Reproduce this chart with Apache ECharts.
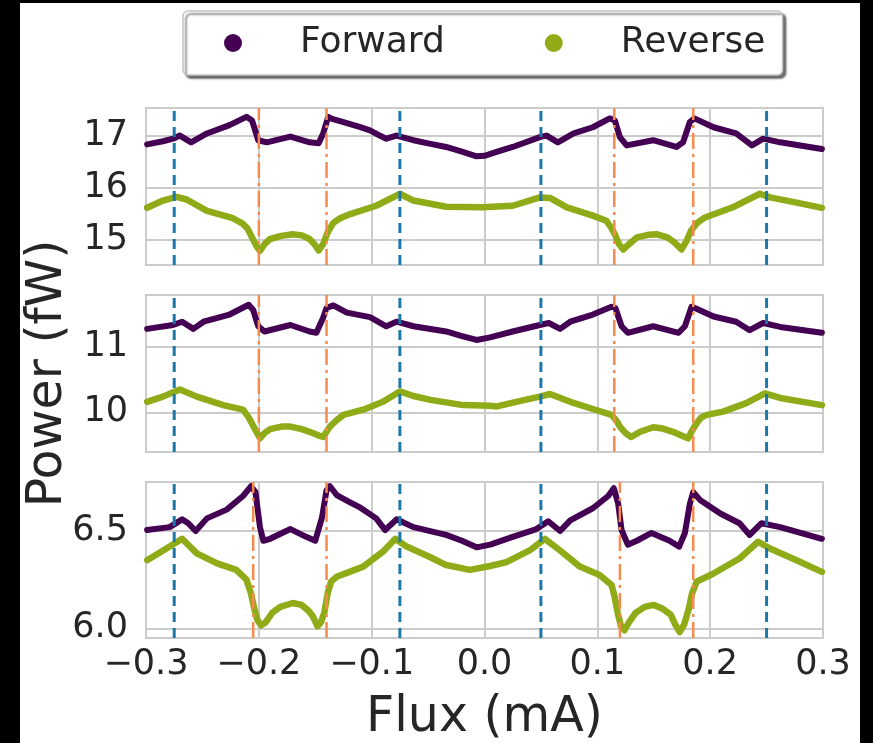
<!DOCTYPE html>
<html>
<head>
<meta charset="utf-8">
<script src="https://cdn.jsdelivr.net/npm/echarts@6/dist/echarts.min.js"></script>
<style>
  html, body { margin: 0; padding: 0; background: #000; }
  #chart { position: absolute; left: 20px; top: 3px; width: 840px; height: 740px; background: #fff; }
</style>
</head>
<body>
<div id="chart"></div>
<script>
// Measured power vs. flux, three bias settings, forward and reverse sweeps: [flux (mA), power (fW)]
const topForward = [[-0.299,16.84],[-0.285,16.90],[-0.276,16.95],[-0.270,17.01],[-0.260,16.88],[-0.246,17.05],[-0.226,17.21],[-0.211,17.37],[-0.206,17.30],[-0.2005,16.92],[-0.193,16.88],[-0.172,16.99],[-0.155,16.88],[-0.147,16.86],[-0.143,17.05],[-0.1385,17.37],[-0.135,17.33],[-0.125,17.27],[-0.110,17.17],[-0.1015,17.11],[-0.092,17.00],[-0.087,16.95],[-0.078,17.01],[-0.063,16.92],[-0.050,16.86],[-0.034,16.79],[-0.020,16.70],[-0.007,16.61],[0.000,16.62],[0.010,16.69],[0.025,16.79],[0.049,16.98],[0.055,17.01],[0.065,16.88],[0.079,17.05],[0.096,17.17],[0.111,17.34],[0.1155,17.30],[0.120,16.98],[0.126,16.82],[0.1495,16.92],[0.170,16.79],[0.176,16.88],[0.182,17.27],[0.186,17.34],[0.203,17.17],[0.223,17.05],[0.237,16.82],[0.247,16.95],[0.262,16.88],[0.299,16.75]];
const topReverse = [[-0.299,15.62],[-0.285,15.76],[-0.273,15.83],[-0.264,15.78],[-0.246,15.56],[-0.223,15.42],[-0.214,15.31],[-0.210,15.22],[-0.206,15.05],[-0.202,14.88],[-0.199,14.79],[-0.195,14.92],[-0.190,15.02],[-0.180,15.08],[-0.170,15.11],[-0.162,15.09],[-0.155,15.02],[-0.150,14.90],[-0.147,14.80],[-0.143,14.92],[-0.139,15.15],[-0.134,15.33],[-0.128,15.42],[-0.119,15.50],[-0.096,15.66],[-0.075,15.89],[-0.063,15.76],[-0.034,15.64],[-0.002,15.63],[0.025,15.66],[0.049,15.82],[0.058,15.81],[0.073,15.63],[0.096,15.47],[0.108,15.37],[0.112,15.25],[0.1155,15.11],[0.119,14.93],[0.123,14.82],[0.128,14.92],[0.135,15.05],[0.145,15.10],[0.153,15.11],[0.162,15.05],[0.168,14.96],[0.1746,14.82],[0.179,14.98],[0.183,15.18],[0.188,15.32],[0.195,15.43],[0.220,15.63],[0.244,15.89],[0.253,15.82],[0.2765,15.72],[0.299,15.62]];
const midForward = [[-0.299,11.28],[-0.276,11.34],[-0.268,11.39],[-0.258,11.28],[-0.249,11.39],[-0.226,11.50],[-0.209,11.65],[-0.205,11.57],[-0.2005,11.32],[-0.195,11.24],[-0.172,11.34],[-0.155,11.24],[-0.149,11.22],[-0.143,11.45],[-0.140,11.60],[-0.134,11.64],[-0.122,11.53],[-0.1015,11.46],[-0.087,11.32],[-0.078,11.39],[-0.063,11.32],[-0.034,11.24],[-0.020,11.17],[-0.007,11.11],[0.005,11.15],[0.025,11.24],[0.049,11.34],[0.057,11.37],[0.067,11.28],[0.076,11.39],[0.096,11.50],[0.1126,11.62],[0.116,11.60],[0.1215,11.32],[0.127,11.22],[0.1495,11.32],[0.172,11.22],[0.1776,11.32],[0.1835,11.62],[0.1864,11.60],[0.203,11.47],[0.223,11.39],[0.235,11.26],[0.247,11.37],[0.262,11.31],[0.299,11.22]];
const midReverse = [[-0.299,10.16],[-0.285,10.24],[-0.270,10.35],[-0.255,10.24],[-0.2315,10.11],[-0.214,10.04],[-0.209,9.92],[-0.204,9.76],[-0.199,9.60],[-0.195,9.68],[-0.190,9.74],[-0.180,9.78],[-0.172,9.78],[-0.162,9.74],[-0.155,9.70],[-0.148,9.65],[-0.143,9.62],[-0.140,9.70],[-0.137,9.78],[-0.131,9.88],[-0.125,9.96],[-0.1075,10.04],[-0.090,10.16],[-0.075,10.32],[-0.063,10.25],[-0.048,10.19],[-0.019,10.11],[0.005,10.10],[0.011,10.09],[0.031,10.17],[0.049,10.24],[0.058,10.28],[0.076,10.16],[0.096,10.05],[0.1126,9.96],[0.117,9.87],[0.120,9.78],[0.125,9.68],[0.130,9.62],[0.138,9.70],[0.1495,9.77],[0.158,9.75],[0.167,9.70],[0.175,9.64],[0.1805,9.60],[0.184,9.72],[0.188,9.83],[0.192,9.92],[0.197,9.96],[0.2115,10.01],[0.232,10.14],[0.2485,10.29],[0.262,10.22],[0.299,10.11]];
const botForward = [[-0.299,6.505],[-0.279,6.52],[-0.268,6.56],[-0.2625,6.54],[-0.256,6.50],[-0.246,6.565],[-0.2285,6.61],[-0.214,6.68],[-0.207,6.73],[-0.203,6.70],[-0.199,6.52],[-0.196,6.45],[-0.190,6.46],[-0.172,6.51],[-0.158,6.47],[-0.150,6.45],[-0.144,6.57],[-0.140,6.71],[-0.137,6.73],[-0.131,6.685],[-0.120,6.65],[-0.110,6.62],[-0.096,6.565],[-0.088,6.505],[-0.078,6.56],[-0.063,6.52],[-0.034,6.48],[-0.020,6.45],[-0.007,6.416],[0.005,6.43],[0.025,6.47],[0.046,6.51],[0.0565,6.55],[0.067,6.50],[0.076,6.555],[0.096,6.617],[0.1096,6.68],[0.1146,6.72],[0.1185,6.64],[0.1215,6.505],[0.127,6.43],[0.135,6.45],[0.148,6.49],[0.164,6.45],[0.1725,6.42],[0.1776,6.49],[0.182,6.64],[0.185,6.70],[0.191,6.66],[0.209,6.59],[0.226,6.54],[0.235,6.48],[0.2455,6.54],[0.262,6.52],[0.299,6.46]];
const botReverse = [[-0.299,6.35],[-0.279,6.42],[-0.268,6.46],[-0.255,6.385],[-0.237,6.334],[-0.220,6.30],[-0.211,6.25],[-0.207,6.18],[-0.204,6.10],[-0.201,6.04],[-0.198,6.015],[-0.194,6.03],[-0.188,6.08],[-0.181,6.11],[-0.170,6.13],[-0.162,6.12],[-0.156,6.09],[-0.152,6.06],[-0.148,6.01],[-0.145,6.03],[-0.142,6.08],[-0.139,6.18],[-0.136,6.24],[-0.131,6.265],[-0.1075,6.317],[-0.090,6.394],[-0.079,6.46],[-0.069,6.42],[-0.048,6.365],[-0.034,6.325],[-0.013,6.30],[0.005,6.32],[0.0195,6.34],[0.040,6.40],[0.0535,6.46],[0.067,6.40],[0.0845,6.317],[0.102,6.274],[0.1126,6.223],[0.115,6.17],[0.118,6.08],[0.121,6.01],[0.124,5.99],[0.128,6.03],[0.134,6.08],[0.142,6.11],[0.150,6.12],[0.158,6.10],[0.165,6.07],[0.169,6.02],[0.173,5.98],[0.177,6.02],[0.181,6.10],[0.184,6.18],[0.188,6.24],[0.2026,6.28],[0.2263,6.36],[0.2425,6.445],[0.253,6.41],[0.2765,6.35],[0.299,6.29]];

// Reference flux positions (vertical markers)
const blueMarks = [-0.275, -0.075, 0.05, 0.25];
const orangeMarksTop = [-0.2, -0.14, 0.115, 0.185];
const orangeMarksMid = [-0.2, -0.14, 0.115, 0.185];
const orangeMarksBot = [-0.205, -0.14, 0.12, 0.185];

// Axis ticks and panel ranges
const xTicks = [-0.3, -0.2, -0.1, 0.0, 0.1, 0.2, 0.3];
const topTicks = [15, 16, 17];
const midTicks = [10, 11];
const botTicks = [6.0, 6.5];
const topRange = [14.52, 17.54];
const midRange = [9.39, 11.80];
const botRange = [5.95, 6.752];

const FONT = 'DejaVu Sans';
const TEXT = '#262626';
const GRID = '#cccccc';
const C_FWD = '#440154';
const C_REV = '#8fab17';
const C_BLUE = '#1a78ab';
const C_ORANGE = '#f58b4c';

const chart = echarts.init(document.getElementById('chart'), null, { renderer: 'canvas' });

const panels = [
  { top: 105, height: 157, range: topRange, ticks: topTicks, fwd: topForward, rev: topReverse, orange: orangeMarksTop, fmt: v => String(v) },
  { top: 292, height: 157, range: midRange, ticks: midTicks, fwd: midForward, rev: midReverse, orange: orangeMarksMid, fmt: v => String(v) },
  { top: 479, height: 156, range: botRange, ticks: botTicks, fwd: botForward, rev: botReverse, orange: orangeMarksBot, fmt: v => v.toFixed(1) }
];

const fmtFlux = v => {
  const r = Math.round(v * 10) / 10;
  return (r < 0 ? '\u2212' : '') + Math.abs(r).toFixed(1);
};

// A full-height vertical marker at flux v, spanning the panel's value range
const vline = (i, v, range, color, width, dash) => ({
  type: 'line', xAxisIndex: i, yAxisIndex: i, silent: true, z: 4,
  showSymbol: false, symbol: 'none',
  data: [[v, range[0]], [v, range[1]]],
  lineStyle: { color: color, width: width, type: dash, cap: 'butt' }
});

const grids = [], xAxes = [], yAxes = [], series = [];
panels.forEach((p, i) => {
  grids.push({
    left: 126, right: 37, top: p.top, height: p.height,
    outerBoundsMode: 'none', containLabel: false,
    show: true, borderColor: GRID, borderWidth: 2, backgroundColor: '#fff'
  });
  xAxes.push({
    gridIndex: i, type: 'value', min: xTicks[0], max: xTicks[xTicks.length - 1], interval: 0.1,
    axisLine: { show: false }, axisTick: { show: false },
    splitLine: { show: true, lineStyle: { color: GRID, width: 2 } },
    axisLabel: { show: i === 2, formatter: fmtFlux, fontSize: 35, fontFamily: FONT, color: TEXT, margin: 9 },
    name: i === 2 ? 'Flux (mA)' : '', nameLocation: 'middle', nameGap: 56,
    nameTextStyle: { fontSize: 49, fontFamily: FONT, color: TEXT }
  });
  yAxes.push({
    gridIndex: i, type: 'value', min: p.range[0], max: p.range[1],
    axisLine: { show: false },
    axisTick: { show: false, customValues: p.ticks },
    splitLine: { show: true, lineStyle: { color: GRID, width: 2 } },
    axisLabel: { customValues: p.ticks, formatter: p.fmt, fontSize: 35, fontFamily: FONT, color: TEXT, margin: 18 },
    name: i === 1 ? 'Power (fW)' : '', nameLocation: 'middle', nameGap: 73, nameRotate: 90,
    nameTextStyle: { fontSize: 49, fontFamily: FONT, color: TEXT }
  });
  series.push({
    name: 'Forward', type: 'line', xAxisIndex: i, yAxisIndex: i, data: p.fwd,
    showSymbol: false, symbol: 'none', color: C_FWD,
    lineStyle: { color: C_FWD, width: 6, join: 'round', cap: 'round' }, z: 2, silent: true
  });
  series.push({
    name: 'Reverse', type: 'line', xAxisIndex: i, yAxisIndex: i, data: p.rev,
    showSymbol: false, symbol: 'none', color: C_REV,
    lineStyle: { color: C_REV, width: 6.5, join: 'round', cap: 'round' }, z: 2, silent: true
  });
  blueMarks.forEach(v => series.push(vline(i, v, p.range, C_BLUE, 3, [10, 6])));
  p.orange.forEach(v => series.push(vline(i, v, p.range, C_ORANGE, 2.5, [16, 5, 3, 5])));
});

chart.setOption({
  animation: false,
  backgroundColor: '#fff',
  textStyle: { fontFamily: FONT },
  legend: {
    data: ['Forward', 'Reverse'],
    left: 163, top: 8,
    icon: 'circle', itemWidth: 18, itemHeight: 18, itemGap: 100,
    padding: [14, 17, 14, 41],
    backgroundColor: '#fff', borderColor: '#c4c4c4', borderWidth: 1.5, borderRadius: 5,
    shadowColor: 'rgba(0,0,0,0.55)', shadowOffsetX: 3, shadowOffsetY: 3, shadowBlur: 2,
    textStyle: { fontSize: 36, fontFamily: FONT, color: TEXT, padding: [0, 0, 0, 53] }
  },
  grid: grids,
  xAxis: xAxes,
  yAxis: yAxes,
  series: series
});
</script>
</body>
</html>
